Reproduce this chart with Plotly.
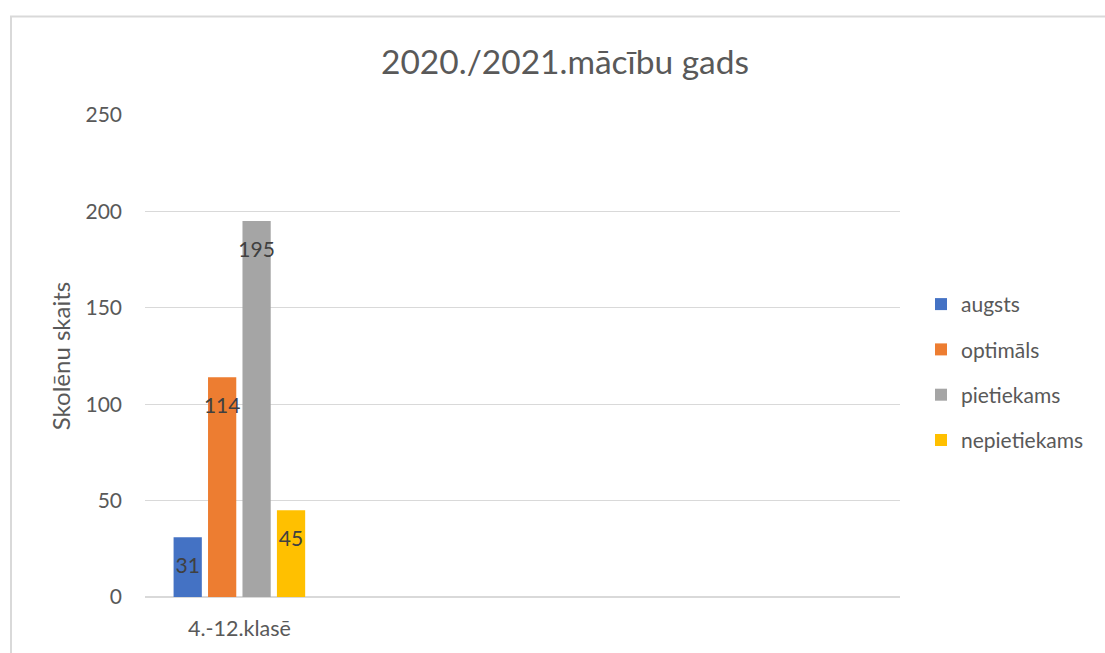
import plotly.graph_objects as go

categories = ["4.-12.klasē"]
series_names = ["augsts", "optimāls", "pietiekams", "nepietiekams"]
augsts = [31]
optimals = [114]
pietiekams = [195]
nepietiekams = [45]
colors = ["#4472C4", "#ED7D31", "#A5A5A5", "#FFC000"]

values = [augsts, optimals, pietiekams, nepietiekams]

FONT = "Lato, Carlito, Calibri, sans-serif"

fig = go.Figure()
for name, vals, col in zip(series_names, values, colors):
    fig.add_trace(go.Bar(
        x=categories, y=vals, name=name, marker=dict(color=col, line=dict(width=0)),
        text=[f"\u00a0<br><span style='font-size:21px'>{v}</span>" for v in vals],
        textposition="inside", insidetextanchor="end",
        constraintext="none", textangle=0,
        textfont=dict(family=FONT, size=14.5, color="#404040"),
        legendgroup=name, hoverinfo="skip",
    ))

W, H = 1105, 653
L, R, T, B = 145, 205, 115, 53
pw, ph = W - L - R, H - T - B

def px_x(x):
    return (x - L) / pw

def px_y(y):
    return (H - B - y) / ph

fig.add_shape(type="rect", xref="paper", yref="paper",
              x0=px_x(11), x1=px_x(1130), y0=px_y(680), y1=px_y(16),
              line=dict(color="#D9D9D9", width=2), fillcolor="rgba(0,0,0,0)", layer="below")

fig.update_layout(
    width=W, height=H,
    margin=dict(l=L, r=R, t=T, b=B),
    paper_bgcolor="white", plot_bgcolor="white",
    font=dict(family=FONT, color="#595959", size=21),
    title=dict(text="2020./2021.mācību gads", xref="container", x=565 / W, xanchor="center",
               yref="container", y=1 - 62 / H, yanchor="middle",
               font=dict(family=FONT, size=33.5, color="#595959")),
    barmode="group", bargap=0.27, bargroupgap=0.18,
    showlegend=True,
    legend=dict(x=px_x(921), xanchor="left", y=px_y(285), yanchor="top",
                traceorder="grouped", tracegroupgap=15,
                font=dict(family=FONT, size=21, color="#595959"),
                bgcolor="rgba(0,0,0,0)"),
    xaxis=dict(type="category", range=[-0.5, 3.5], showgrid=False, showline=False,
               ticks="", ticklabelstandoff=16,
               tickfont=dict(family=FONT, size=21.5, color="#595959"),
               fixedrange=True),
    yaxis=dict(range=[0, 250], dtick=50, showgrid=True, gridcolor="#D9D9D9", gridwidth=1,
               zeroline=True, zerolinecolor="#D9D9D9", zerolinewidth=1.5,
               showline=False, ticks="", ticklabelstandoff=22,
               tickfont=dict(family=FONT, size=21, color="#595959"),
               title=dict(text="Skolēnu skaits", standoff=8,
                          font=dict(family=FONT, size=24, color="#595959")),
               fixedrange=True),
)

fig.write_html("out.html", config={"displayModeBar": False},
               post_script="document.body.style.margin='0';")
